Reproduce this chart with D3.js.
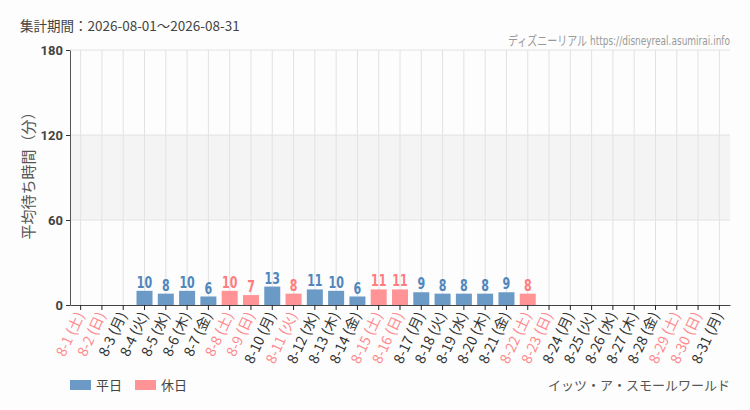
<!DOCTYPE html>
<html>
<head>
<meta charset="utf-8">
<script src="https://cdn.jsdelivr.net/npm/d3@7"></script>
<style>
  body { margin: 0; background: #fcfdfc; }
  svg { display: block; font-family: "Noto Sans CJK JP", "Noto Sans", sans-serif; }
  .narrow { font-family: "Liberation Sans Narrow", "DejaVu Sans Condensed", "Noto Sans CJK JP", sans-serif; }
</style>
</head>
<body>
<svg id="chart" width="750" height="410"></svg>
<script>
// days of the month, weekday names, avg wait (min); null = no data
var days = ["8-1","8-2","8-3","8-4","8-5","8-6","8-7","8-8","8-9","8-10","8-11","8-12","8-13","8-14","8-15","8-16",
            "8-17","8-18","8-19","8-20","8-21","8-22","8-23","8-24","8-25","8-26","8-27","8-28","8-29","8-30","8-31"];
var weekdays = ["土","日","月","火","水","木","金","土","日","月","火","水","木","金","土","日",
                "月","火","水","木","金","土","日","月","火","水","木","金","土","日","月"];
var waits = [null,null,null,10,8,10,6,10,7,13,8,11,10,6,11,11,9,8,8,8,9,8,null,null,null,null,null,null,null,null,null];
// 1 = holiday (weekend or 山の日)
var holiday = [1,1,0,0,0,0,0,1,1,0,1,0,0,0,1,1,0,0,0,0,0,1,1,0,0,0,0,0,1,1,0];
var yTicks = [0,60,120,180];

var title = "集計期間：2026-08-01～2026-08-31";
var site = "ディズニーリアル https://disneyreal.asumirai.info";
var attraction = "イッツ・ア・スモールワールド";

var blueBar = "#6b9ac6", blueText = "#4f86bd";
var pinkBar = "#ff9396", pinkText = "#ff7b80";

var svg = d3.select("#chart");
var mLeft = 70, mRight = 730, mTop = 50, mBottom = 305;

var x = d3.scaleBand().domain(days).range([mLeft, mRight]);
var y = d3.scaleLinear().domain([0, 180]).range([mBottom, mTop]);

// grey band 60-120
svg.append("rect")
  .attr("x", mLeft).attr("width", mRight - mLeft)
  .attr("y", y(120)).attr("height", y(60) - y(120))
  .attr("fill", "#f3f4f3");

// vertical grid
svg.append("g").selectAll("line").data(days).join("line")
  .attr("x1", function(d){ return x(d) + x.bandwidth()/2; })
  .attr("x2", function(d){ return x(d) + x.bandwidth()/2; })
  .attr("y1", mTop).attr("y2", mBottom)
  .attr("stroke", "#e2e2e2");

// horizontal grid
svg.append("g").selectAll("line").data(yTicks.slice(1)).join("line")
  .attr("x1", mLeft).attr("x2", mRight)
  .attr("y1", function(d){ return y(d); }).attr("y2", function(d){ return y(d); })
  .attr("stroke", "#e2e2e2");

var data = days.map(function(d, i){ return {day: d, wd: weekdays[i], v: waits[i], hol: holiday[i]}; });
var withVal = data.filter(function(d){ return d.v != null; });
var bw = 16;

svg.append("g").selectAll("rect").data(withVal).join("rect")
  .attr("x", function(d){ return x(d.day) + x.bandwidth()/2 - bw/2; })
  .attr("width", bw)
  .attr("y", function(d){ return y(d.v); })
  .attr("height", function(d){ return y(0) - y(d.v); })
  .attr("fill", function(d){ return d.hol ? pinkBar : blueBar; });

// value labels, squeezed horizontally to look condensed
svg.append("g").selectAll("text").data(withVal).join("text")
  .attr("class", "narrow")
  .attr("transform", function(d){ return "translate(" + (x(d.day) + x.bandwidth()/2) + "," + (y(d.v) - 3) + ") scale(0.82,1)"; })
  .attr("text-anchor", "middle")
  .attr("font-size", 15)
  .attr("font-weight", "bold")
  .attr("fill", function(d){ return d.hol ? pinkText : blueText; })
  .text(function(d){ return d.v; });

// y axis
var yAxis = svg.append("g")
  .attr("transform", "translate(" + mLeft + ",0)")
  .call(d3.axisLeft(y).tickValues(yTicks).tickSize(4).tickSizeOuter(0));
yAxis.select(".domain").attr("stroke", "#555");
yAxis.selectAll(".tick line").attr("stroke", "#333");
yAxis.selectAll(".tick text")
  .attr("font-family", "Roboto, 'Noto Sans', sans-serif")
  .attr("font-size", 13).attr("font-weight", "bold").attr("fill", "#444");

// x axis
var xAxis = svg.append("g")
  .attr("transform", "translate(0," + mBottom + ")")
  .call(d3.axisBottom(x).tickSize(5).tickSizeOuter(0).tickFormat(""));
xAxis.select(".domain").attr("stroke", "#444");
xAxis.selectAll(".tick line").attr("stroke", "#222");

svg.append("g").selectAll("text").data(data).join("text")
  .attr("transform", function(d){ return "translate(" + (x(d.day) + x.bandwidth()/2 + 4) + "," + (mBottom + 10) + ") rotate(-65)"; })
  .attr("text-anchor", "end")
  .attr("font-size", 14)
  .attr("fill", function(d){ return d.hol ? "#ff8a8e" : "#333"; })
  .text(function(d){ return d.day + " (" + d.wd + ")"; });

// y label
svg.append("text")
  .attr("transform", "translate(34,172) rotate(-90)")
  .attr("text-anchor", "middle")
  .attr("font-size", 15)
  .attr("fill", "#555")
  .text("平均待ち時間（分）");

// header
svg.append("text").attr("x", 20).attr("y", 31)
  .attr("font-size", 13.5).attr("fill", "#444").text(title);
svg.append("text").attr("class", "narrow").attr("x", mRight).attr("y", 45)
  .attr("text-anchor", "end").attr("font-size", 13).attr("fill", "#999")
  .attr("textLength", 222).attr("lengthAdjust", "spacingAndGlyphs")
  .text(site);

// legend
var legend = [["平日", blueBar], ["休日", pinkBar]];
var lg = svg.append("g").selectAll("g").data(legend).join("g")
  .attr("transform", function(d, i){ return "translate(" + (70 + i*65) + ",380)"; });
lg.append("rect").attr("width", 21).attr("height", 10).attr("fill", function(d){ return d[1]; });
lg.append("text").attr("x", 26).attr("y", 10).attr("font-size", 13).attr("fill", "#444")
  .text(function(d){ return d[0]; });

svg.append("text").attr("x", mRight).attr("y", 390)
  .attr("text-anchor", "end").attr("font-size", 13).attr("fill", "#555").text(attraction);
</script>
</body>
</html>
